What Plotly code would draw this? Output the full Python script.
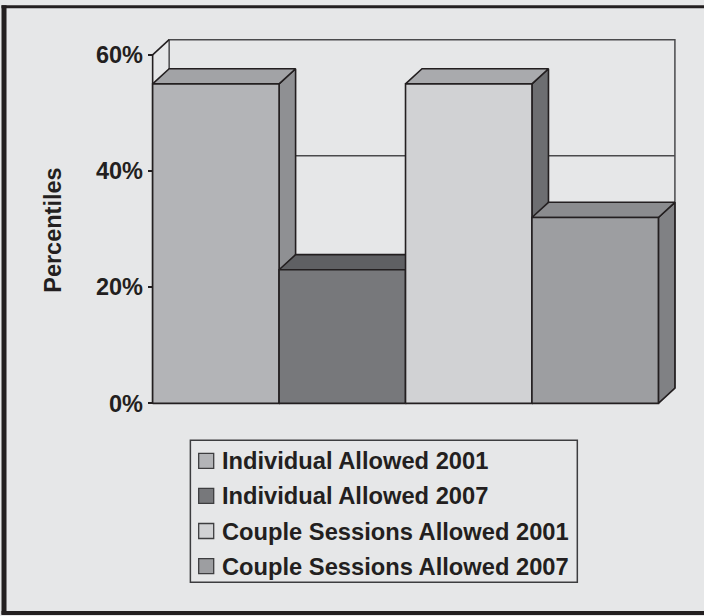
import plotly.graph_objects as go

# ---- data -------------------------------------------------------------
categories = [
    "Individual Allowed 2001",
    "Individual Allowed 2007",
    "Couple Sessions Allowed 2001",
    "Couple Sessions Allowed 2007",
]
values = [55, 23, 55, 32]            # percent
tick_values = [0, 20, 40, 60]
tick_labels = ["0%", "20%", "40%", "60%"]
axis_title = "Percentiles"

front_colors = ["#b3b4b7", "#77787b", "#d1d2d4", "#9d9ea1"]
top_colors = ["#a2a3a6", "#5f6063", "#a9aaad", "#8b8c8f"]
side_colors = ["#8f9093", "#5a5b5e", "#6d6e71", "#808184"]

# ---- geometry ---------------------------------------------------------
W, H = 704, 616
BG = "#e6e7e8"
INK = "#231f20"
FONT = "Liberation Sans, Arial, Helvetica, sans-serif"

X0_PX, XN_PX = 153.0, 658.3          # front edge of the bar block
Y0_PX, YTOP_PX = 403.7, 54.7         # 0% and 60% on the front plane
n = len(values)
px_x = (XN_PX - X0_PX) / n
px_y = (Y0_PX - YTOP_PX) / tick_values[-1]
DX = 16.5 / px_x                     # depth offset, data units
DY = 15.2 / px_y

x_range = [-0.1, n + 0.25]
y_range = [-2, 66]
m_l = X0_PX + x_range[0] * px_x
m_r = W - (X0_PX + x_range[1] * px_x)
m_t = Y0_PX - y_range[1] * px_y
m_b = H - (Y0_PX - y_range[0] * px_y)
plot_w = W - m_l - m_r
plot_h = H - m_t - m_b


def paper_x(px):
    return (px - m_l) / plot_w


def paper_y(py):
    return (H - m_b - py) / plot_h


fig = go.Figure()


def line(xs, ys, color="#4a4a4c", width=1.5):
    fig.add_trace(go.Scatter(x=xs, y=ys, mode="lines",
                             line=dict(color=color, width=width),
                             hoverinfo="skip", showlegend=False))


def face(xs, ys, fill):
    fig.add_trace(go.Scatter(x=xs, y=ys, mode="lines", fill="toself",
                             fillcolor=fill,
                             line=dict(color=INK, width=1.6),
                             hoverinfo="skip", showlegend=False))


top = tick_values[-1]
# back wall with its gridlines
for v in tick_values[1:-1]:
    line([DX, n + DX], [v + DY, v + DY])
    line([0, DX], [v, v + DY])
line([DX, DX, n + DX, n + DX], [DY, top + DY, top + DY, DY])
# left wall top edge and front axis line
line([0, DX], [top, top + DY], color=INK, width=1.6)
line([0, 0], [0, top], color=INK, width=1.6)

# 3-D bars, drawn left to right so nearer faces overlap correctly
for i, v in enumerate(values):
    x0, x1 = i, i + 1
    face([x1, x1 + DX, x1 + DX, x1, x1], [0, DY, v + DY, v, 0], side_colors[i])
    face([x0, x1, x1 + DX, x0 + DX, x0], [v, v, v + DY, v + DY, v], top_colors[i])
    face([x0, x1, x1, x0, x0], [0, 0, v, v, 0], front_colors[i])

shapes = []
annotations = []

# legend box
LG_L, LG_R, LG_T, LG_B = 190.7, 577.3, 440.7, 582.7
shapes.append(dict(type="rect", xref="paper", yref="paper",
                   x0=paper_x(LG_L), x1=paper_x(LG_R),
                   y0=paper_y(LG_B), y1=paper_y(LG_T),
                   line=dict(color="#3d3d3f", width=1.5)))
row0, row_gap = 461.3, 35.1
for k, name in enumerate(categories):
    cy = row0 + k * row_gap
    shapes.append(dict(type="rect", xref="paper", yref="paper",
                       x0=paper_x(199), x1=paper_x(214),
                       y0=paper_y(cy + 7.5), y1=paper_y(cy - 7.5),
                       fillcolor=front_colors[k],
                       line=dict(color="#3d3d3f", width=1.3)))
    annotations.append(dict(text=name, xref="paper", yref="paper",
                            x=paper_x(220.5), y=paper_y(cy + 0.5),
                            xanchor="left", yanchor="middle", showarrow=False,
                            font=dict(family=FONT, size=23.7, color=INK,
                                      weight="bold")))

# axis title
annotations.append(dict(text=axis_title, xref="paper", yref="paper",
                        x=paper_x(53.3), y=paper_y(230), textangle=-90,
                        xanchor="center", yanchor="middle", showarrow=False,
                        font=dict(family=FONT, size=23.5, color=INK,
                                  weight="bold")))

# outer frame (left, top, bottom)
shapes += [
    dict(type="line", xref="paper", yref="paper",
         x0=paper_x(2), x1=paper_x(W), y0=paper_y(6.5), y1=paper_y(6.5),
         line=dict(color=INK, width=3)),
    dict(type="line", xref="paper", yref="paper",
         x0=paper_x(4.5), x1=paper_x(4.5), y0=paper_y(5), y1=paper_y(615),
         line=dict(color=INK, width=5)),
    dict(type="line", xref="paper", yref="paper",
         x0=paper_x(2), x1=paper_x(W), y0=paper_y(613.5), y1=paper_y(613.5),
         line=dict(color=INK, width=4)),
]

fig.update_layout(
    width=W, height=H,
    margin=dict(l=m_l, r=m_r, t=m_t, b=m_b, pad=0),
    paper_bgcolor=BG, plot_bgcolor=BG,
    showlegend=False,
    shapes=shapes, annotations=annotations,
    xaxis=dict(range=x_range, visible=False, domain=[0, 1]),
    yaxis=dict(range=y_range, anchor="free", position=paper_x(X0_PX),
               tickvals=tick_values, ticktext=tick_labels,
               ticks="outside", ticklen=5, tickwidth=1.5, tickcolor=INK,
               showline=False, showgrid=False, zeroline=False,
               tickfont=dict(family=FONT, size=23.5, color=INK,
                             weight="bold")),
)

fig.write_html("out.html")
